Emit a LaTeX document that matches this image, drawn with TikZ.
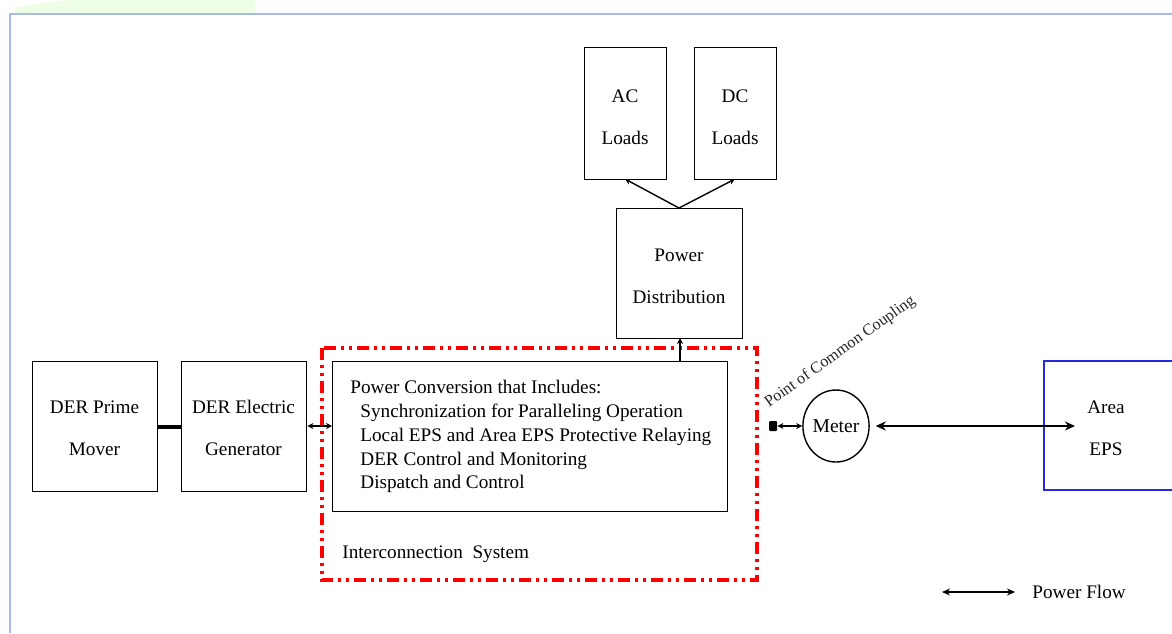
\documentclass[tikz,border=0pt]{standalone}
\usepackage{fontspec}
\setmainfont{Liberation Serif}
\usetikzlibrary{arrows.meta,shapes.geometric}
\begin{document}
\begin{tikzpicture}[x=0.5pt,y=-0.5pt,
  box/.style={draw=black,line width=0.7pt,inner sep=0pt},
  lbl/.style={font=\fontsize{9.6}{21}\selectfont,align=center},
  flow/.style={line width=0.7pt,{Stealth[length=3pt,width=3pt]}-{Stealth[length=3pt,width=3pt]}},
  bigflow/.style={line width=0.9pt,{Stealth[length=5pt,width=4.5pt]}-{Stealth[length=5pt,width=4.5pt]}},
  oneway/.style={line width=0.7pt,-{Stealth[length=3pt,width=3pt]}},
  red frame/.style={draw=red,line width=2pt,dash pattern=on 6pt off 2.5pt on 1.5pt off 2.5pt on 1.5pt off 2.5pt}
]
\useasboundingbox (0,0) rectangle (1172,633);
\fill[white] (0,0) rectangle (1172,633);
% faint background blob
\fill[green!60!yellow,opacity=0.10] (15,8) .. controls (60,-4) and (200,-8) .. (255,0) -- (255,13) -- (15,13) -- cycle;
% outer light blue frame
\draw[draw={rgb,255:red,170;green,185;blue,240},line width=1.2pt] (10,633) -- (10,14) -- (1172,14);

% boxes
\node[box,minimum width=125*0.5pt,minimum height=130*0.5pt,anchor=north west] (pm) at (32,361) {};
\node[lbl] at (94.5,428) {DER Prime\\Mover};
\node[box,minimum width=125*0.5pt,minimum height=130*0.5pt,anchor=north west] (gen) at (181,361) {};
\node[lbl] at (243.5,428) {DER Electric\\Generator};

\node[box,minimum width=395*0.5pt,minimum height=150*0.5pt,anchor=north west] (pc) at (332,361) {};
\node[anchor=north west,align=left,font=\fontsize{9.6}{11.9}\selectfont,inner sep=0pt] (pctext) at (350,380)
 {Power Conversion that Includes:\\
  \hspace*{5pt}Synchronization for Paralleling Operation\\
  \hspace*{5pt}Local EPS and Area EPS Protective Relaying\\
  \hspace*{5pt}DER Control and Monitoring\\
  \hspace*{5pt}Dispatch and Control};

\draw[red frame] (322,348) rectangle (757,580);
\node[anchor=west,font=\fontsize{9.6}{11}\selectfont,inner sep=0pt] (ics) at (342,554) {Interconnection\ \ System};

\node[box,minimum width=126*0.5pt,minimum height=130*0.5pt,anchor=north west] (pd) at (616,208) {};
\node[lbl] at (679,276) {Power\\Distribution};

\node[box,minimum width=82*0.5pt,minimum height=132*0.5pt,anchor=north west] (ac) at (584,47) {};
\node[lbl] at (625,117) {AC\\Loads};
\node[box,minimum width=82*0.5pt,minimum height=132*0.5pt,anchor=north west] (dc) at (694,47) {};
\node[lbl] at (735,117) {DC\\Loads};

% Area EPS box (open to the right)
\draw[draw={rgb,255:red,40;green,40;blue,220},line width=0.7pt] (1172,361) -- (1044,361) -- (1044,490) -- (1172,490);
\node[lbl] (eps) at (1106,428) {Area\\EPS};

% meter
\node[draw,ellipse,line width=0.7pt,minimum width=58*0.5pt,minimum height=72*0.5pt,inner sep=0pt,font=\fontsize{9.8}{11}\selectfont] (meter) at (836,426) {Meter};
\node[fill=black,minimum width=8*0.5pt,minimum height=10*0.5pt,inner sep=0pt,rounded corners=0.5pt] (pcc) at (773,426) {};
\node[rotate=35.5,anchor=south west,font=\fontsize{8.1}{9}\selectfont,inner sep=0pt,text=black!85] (pcclbl) at (771,411) {Point of Common Coupling};

% connectors
\draw[line width=2pt] (pm.east |- 0,427) -- (gen.west |- 0,427);
\draw[flow] (gen.east |- 0,426) -- (pc.west |- 0,426);
\draw[oneway] (680,361) -- (680,338);
\coordinate (pdtop) at (679,208);
\draw[oneway] (pdtop) -- (625,179);
\draw[oneway] (pdtop) -- (735,179);
\draw[flow] (pcc.east) -- (meter.west);
\coordinate (epsin) at (1075,426);
\draw[bigflow,shorten <=3pt] (meter.east) -- (epsin);

% legend
\coordinate (lg1) at (942,592);
\coordinate (lg2) at (1015,592);
\draw[flow,{Stealth[length=4pt,width=3.5pt]}-{Stealth[length=4pt,width=3.5pt]}] (lg1) -- (lg2);
\node[anchor=west,font=\fontsize{9.6}{11}\selectfont,inner sep=0pt] (lgt) at (1032,592) {Power Flow};
\end{tikzpicture}
\end{document}
